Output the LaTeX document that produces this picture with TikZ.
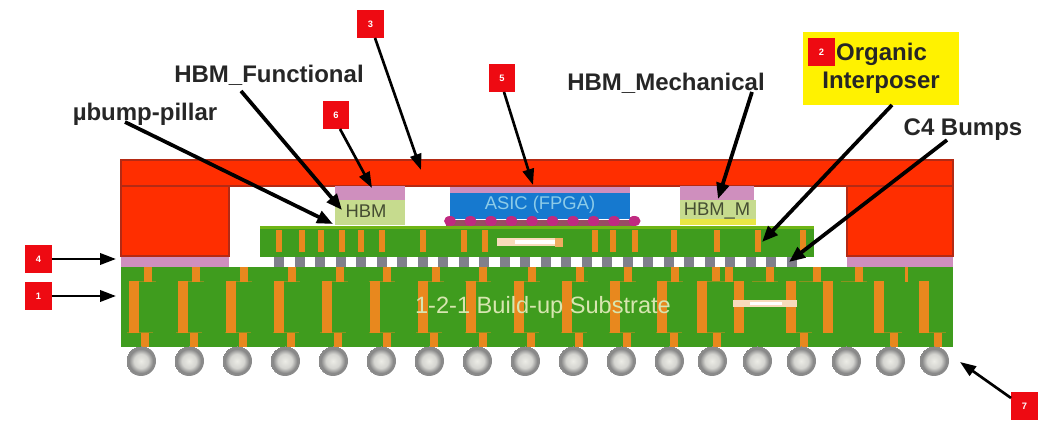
\documentclass[tikz,border=0pt]{standalone}
\usepackage{fontspec}
\setmainfont{Liberation Sans}
\usetikzlibrary{arrows.meta}
\definecolor{pcbgreen}{HTML}{3F9C1E}
\definecolor{lidred}{HTML}{FF2E00}
\definecolor{lidedge}{HTML}{B42A14}
\definecolor{tagred}{HTML}{EE0A12}
\definecolor{tim}{HTML}{CF8FBE}
\definecolor{cu}{HTML}{E8881E}
\definecolor{memgreen}{HTML}{C6DB8E}
\definecolor{asicblue}{HTML}{1679CF}
\definecolor{asictext}{HTML}{8CCBE8}
\definecolor{ubump}{HTML}{C02A80}
\definecolor{bumpgray}{HTML}{80808C}
\definecolor{txt}{HTML}{262626}
\definecolor{ballhi}{HTML}{ECECE6}
\definecolor{ballmid}{HTML}{D4D4D0}
\definecolor{ballrim}{HTML}{8A8A8A}
\pgfdeclareradialshading{solderball}{\pgfpoint{0bp}{0bp}}{
  color(0bp)=(ballhi);
  color(12bp)=(ballmid);
  color(20bp)=(ballrim);
  color(25bp)=(ballrim)}
\tikzset{
  x=0.75pt,y=-0.75pt,
  lid/.style={fill=lidred,draw=lidedge,line width=1.1pt},
  cuvia/.style={fill=cu},
  trace/.style={fill=cu!45!pcbgreen},
  tag/.style={fill=tagred,text=white,inner sep=0pt,minimum width=19.8pt,minimum height=21pt,font=\bfseries\fontsize{7}{8}\selectfont},
  lab/.style={inner sep=0pt,text=txt,font=\bfseries\fontsize{18}{20}\selectfont},
  chip/.style={inner sep=0pt,font=\fontsize{13.8}{15}\selectfont},
  arr/.style={-{Triangle[length=12pt,width=9.5pt]},line width=2.8pt,black},
  tagarr/.style={-{Triangle[length=12pt,width=8.5pt]},line width=2pt,black},
}
\begin{document}
\begin{tikzpicture}
\useasboundingbox (0,0) rectangle (1048,423);
% lid
\fill[tim] (121,256) rectangle (229,267);
\fill[tim] (847,256) rectangle (953,267);
\path[lid] (121,186) rectangle (229,256);
\path[lid] (847,186) rectangle (953,256);
\path[lid] (121,160) rectangle (953,186);
% substrate
\fill[pcbgreen] (121,267) rectangle (953,347);
\foreach \x in {148,196,244,292,340,387,436,483,532,580,628,675,716,729,770,817,859}{
  \fill[trace] (\x-18,281) rectangle (\x+8,282);
  \fill[cuvia] (\x-4,267) rectangle (\x+4,282);
}
\foreach \x in {145,194,243,291,338,387,434,483,531,579,627,674,717,804,894,938}{
  \fill[trace] (\x-18,332.5) rectangle (\x+8,333.5);
  \fill[cuvia] (\x-4,333) rectangle (\x+4,347);
}
\foreach \x in {134,183,231,279,327,375,423,471,519,567,615,662,702,739,791,828,879,924}
  \fill[cuvia] (\x-5,281) rectangle (\x+5,333);
\fill[cuvia] (905,267) rectangle (908,282);
\fill[white!70!cu] (733,300) rectangle (797,307);
\fill[white] (750,302) rectangle (782,305);
% balls
\foreach \x in {141,189,237,285,333,381,429,477,525,573,621,669,712,757,801,846,890,934}
  \shade[shading=solderball] (\x,361) circle (15);
% C4 bumps
\foreach \i in {0,...,25}
  \fill[bumpgray] ({279+20.52*\i-5},257) rectangle ({279+20.52*\i+5},267);
% interposer
\fill[pcbgreen] (260,226) rectangle (814,257);
\fill[pcbgreen!75!yellow] (260,226) rectangle (814,229);
\foreach \x in {279,302,321,342,361,382,423,464,485,595,613,635,674,717,758,803}
  \fill[cuvia] (\x-3,230) rectangle (\x+3,252);
\fill[white!70!cu] (497,238) rectangle (563,246);
\fill[white] (515,240) rectangle (555,244);
\fill[cu!70!white] (555,238) rectangle (563,247);
% HBM stacks
\fill[tim] (335,186) rectangle (405,200);
\fill[memgreen] (335,200) rectangle (405,225);
\fill[tim] (680,186) rectangle (754,200);
\fill[memgreen] (680,200) rectangle (756,219);
\fill[yellow!60!memgreen] (680,219) rectangle (756,225);
% ASIC
\fill[tim] (450,187) rectangle (630,193);
\fill[asicblue] (450,193) rectangle (630,219);
\fill[ubump!70!pcbgreen] (446,220) rectangle (636,226);
\foreach \i in {0,...,9}
  \fill[ubump] ({450+20.5*\i},221) ellipse (6 and 5);
\fill[ubump] (633,221) ellipse (4 and 5);
% chip and substrate texts
\node[chip,text=asictext] (asic) at (540,205) {ASIC (FPGA)};
\node[chip,text=black!65!memgreen] (hbm) at (366,211) {HBM};
\node[chip,text=black!65!memgreen] (hbmm) at (717,211) {HBM\_M};
\node[inner sep=0pt,text=memgreen!70!white,font=\fontsize{17.7}{20}\selectfont] (sub) at (543,307) {1-2-1 Build-up Substrate};
% labels
\node[lab] (funcl) at (269,75) {HBM\_Functional};
\node[lab] (pillarl) at (145,114) {µbump-pillar};
\node[lab] (mechl) at (666,83) {HBM\_Mechanical};
\node[lab] (c4l) at (963,130) {C4 Bumps};
\node[fill=yellow,minimum width=117pt,minimum height=54.75pt,inner sep=0pt] (orgbox) at (881,68.5) {};
\node[lab] (org1) at (881.5,54) {Organic};
\node[lab] (org2) at (881,83) {Interposer};
% tags
\node[tag] (t1) at (38.5,296) {1};
\node[tag] (t2) at (821.5,52) {2};
\node[tag] (t3) at (370.5,24) {3};
\node[tag] (t4) at (38.5,259) {4};
\node[tag] (t5) at (502,78) {5};
\node[tag] (t6) at (336,115) {6};
\node[tag] (t7) at (1024.5,406) {7};
% arrow ends
\coordinate (e1) at (116,296);
\coordinate (e3) at (421,170);
\coordinate (e4) at (116,259);
\coordinate (e5) at (533,185);
\coordinate (e6) at (372,188);
\coordinate (e7) at (960,362);
\coordinate (efunc) at (342,210);
\coordinate (epillar) at (333,224);
\coordinate (emech) at (718,199);
\coordinate (eorg) at (762,242);
\coordinate (ec4) at (789,262);
\coordinate (spillar) at (125,122);
\coordinate (sfunc) at (241,91);
\coordinate (smech) at (752,92);
\coordinate (sorg) at (892,105);
\coordinate (sc4) at (947,140);
\coordinate (s3) at (375,38);
\coordinate (s5) at (504,92);
\coordinate (s6) at (340,129);
\coordinate (s7) at (1011,398);
% arrows
\draw[tagarr] (t4.east) -- (e4);
\draw[tagarr] (t1.east) -- (e1);
\draw[tagarr] (s7) -- (e7);
\draw[tagarr] (s3) -- (e3);
\draw[tagarr] (s5) -- (e5);
\draw[tagarr] (s6) -- (e6);
\draw[arr] (sfunc) -- (efunc);
\draw[arr] (spillar) -- (epillar);
\draw[arr] (smech) -- (emech);
\draw[arr] (sorg) -- (eorg);
\draw[arr] (sc4) -- (ec4);
\end{tikzpicture}
\end{document}
